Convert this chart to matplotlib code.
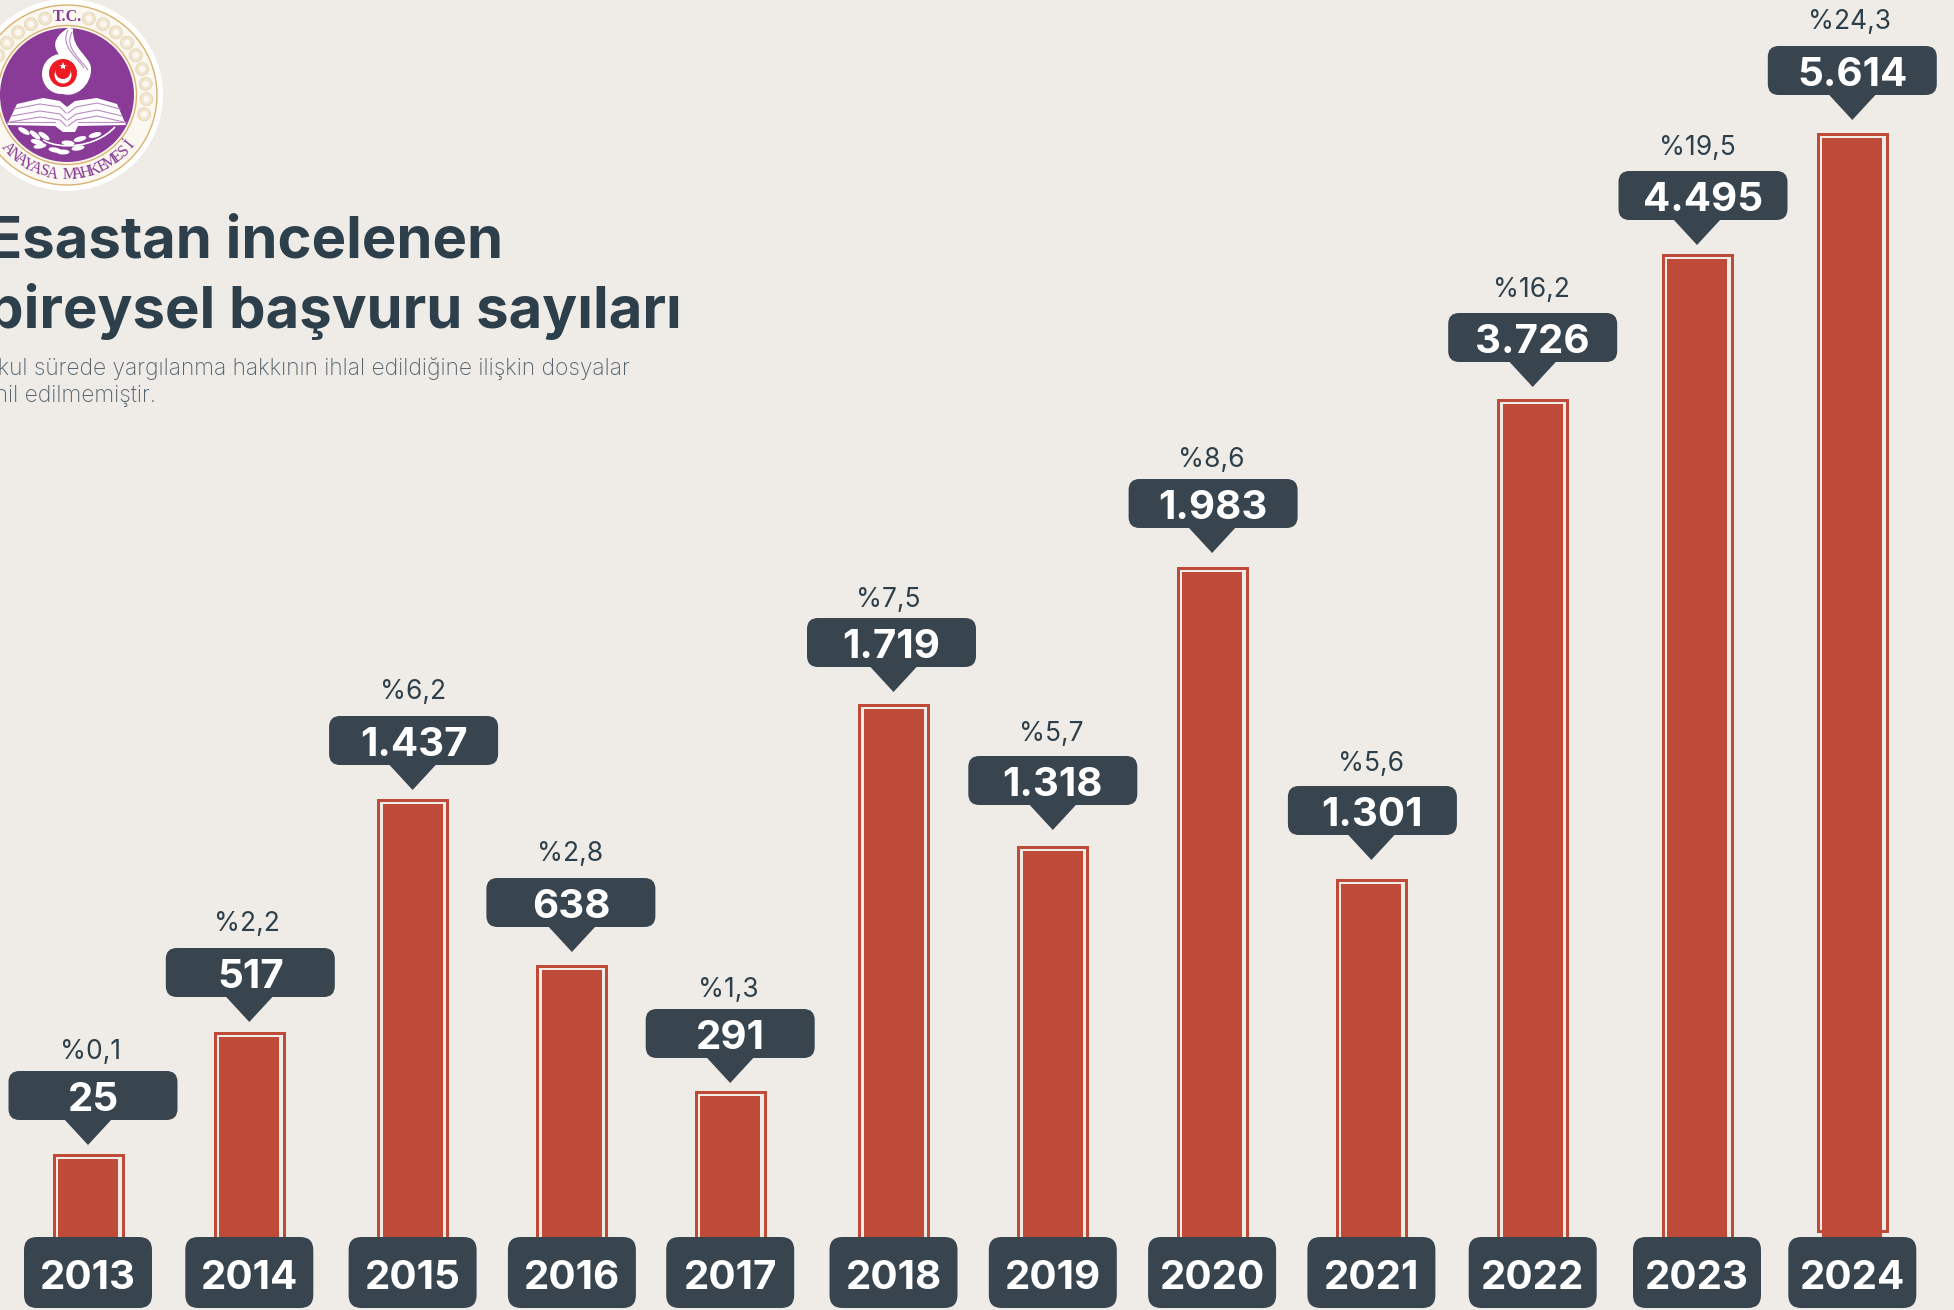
import numpy as np
import matplotlib
matplotlib.use("Agg")
import matplotlib.pyplot as plt
from matplotlib.patches import FancyBboxPatch, Rectangle, Polygon, Circle, Ellipse, PathPatch
from matplotlib.path import Path

# ---------- data ----------
years = [2013, 2014, 2015, 2016, 2017, 2018, 2019, 2020, 2021, 2022, 2023, 2024]
counts = [25, 517, 1437, 638, 291, 1719, 1318, 1983, 1301, 3726, 4495, 5614]
count_labels = ["25", "517", "1.437", "638", "291", "1.719", "1.318", "1.983", "1.301", "3.726", "4.495", "5.614"]
share_labels = ["%0,1", "%2,2", "%6,2", "%2,8", "%1,3", "%7,5", "%5,7", "%8,6", "%5,6", "%16,2", "%19,5", "%24,3"]

# The source's bars are not drawn to a linear scale: this is the axis
axis_values = [0, 25, 291, 517, 638, 1301, 1318, 1437, 1719, 1983, 3726, 4495, 5614, 6000]
axis_heights = [0, 81, 144, 203, 270, 356, 389, 436, 531, 668, 836, 981, 1102, 1240]

# ---------- layout (pixels) ----------
W, H = 1954, 1310
BASE = 1240
BG, RED, DARK, SLATE = "#EFECE7", "#BF4A37", "#2D3F4A", "#38454F"
STEP, X0 = 160.3, 89
bar_nudge = [-1, 0, 3, 2, 0, 3, 2, 1, 0, 1, 5, 0]
callout_dx = [5, 1, 1, -1, 0, -2, 0, 1, 1, 0, 6, 0]
callout_gap = [33, 34, 33, 37, 32, 36, 40, 38, 43, 36, 33, 37]
share_dx = [3, -2, 0, -2, -2, -5, -2, -1, 0, -1, 0, -3]
share_gap = [21, 26, 26, 26, 22, 21, 24, 22, 25, 25, 26, 26]
FONT = ["Inter", "DejaVu Sans"]

fig = plt.figure(figsize=(W / 100, H / 100), dpi=100, facecolor=BG)

# ---------- bars, through the axis scale ----------
ax = fig.add_axes([0, (H - BASE) / H, 1, BASE / H])
ax.set_yscale("function", functions=(lambda v: np.interp(v, axis_values, axis_heights),
                                     lambda h: np.interp(h, axis_heights, axis_values)))
ax.set_ylim(0, 6000)
ax.set_xlim(-X0 / STEP, (W - X0) / STEP)
ax.axis("off")
positions = np.arange(len(years)) + np.array(bar_nudge) / STEP
ax.bar(positions, counts, width=60 / STEP, color=RED, linewidth=0)
fig.canvas.draw()


def px(i, value):
    x, y = ax.transData.transform((positions[i], value))
    return x, H - y


# ---------- overlay in pixel units ----------
ov = fig.add_axes([0, 0, 1, 1], facecolor="none")
ov.set_xlim(0, W)
ov.set_ylim(H, 0)
ov.axis("off")


def rbox(x0, y0, w, h, r, color):
    ov.add_patch(FancyBboxPatch((x0, y0), w, h, boxstyle=f"round,pad=0,rounding_size={r}",
                                fc=color, ec="none"))


for i, (yr, cl, sl) in enumerate(zip(years, count_labels, share_labels)):
    cx, top = px(i, counts[i])
    outer = top - 6
    bottom = 1231 if yr == 2024 else 1250
    ov.add_patch(Rectangle((cx - 34.5, outer + 1.5), 69, bottom - outer - 1.5, fc="none", ec=RED, lw=3 * 0.72))
    # year label
    rbox(cx - 64, 1237, 128, 71, 13, SLATE)
    ov.text(cx, 1289, str(yr), color="white", fontsize=29, fontweight="bold", family=FONT, ha="center", va="baseline")
    # callout
    bx = cx + callout_dx[i]
    bb = outer - callout_gap[i]
    bt = bb - 49
    tip = bb + 25
    ov.add_patch(Polygon([(cx - 24, bb - 1), (cx + 24, bb - 1), (cx, tip)], closed=True, fc=SLATE, ec="none"))
    rbox(bx - 84.5, bt, 169, 49, 11, SLATE)
    ov.text(bx, bb - 9, cl, color="white", fontsize=29, fontweight="bold", family=FONT, ha="center", va="baseline")
    ov.text(cx + share_dx[i], bt - share_gap[i] + 9.5, sl, color=DARK, fontsize=19, family=FONT,
            ha="center", va="baseline")

# ---------- title ----------
ov.text(-13, 258, "Esastan incelenen", color=DARK, fontsize=41.8, fontweight="bold", family=FONT, va="baseline")
ov.text(-13, 328, "bireysel başvuru sayıları", color=DARK, fontsize=41.8, fontweight="bold", family=FONT, va="baseline")
ov.text(-35, 375, "Makul sürede yargılanma hakkının ihlal edildiğine ilişkin dosyalar", color="#55646D",
        fontsize=16.4, fontweight="light", family=FONT, va="baseline")
ov.text(-31, 402, "dahil edilmemiştir.", color="#55646D", fontsize=16.4, fontweight="light", family=FONT, va="baseline")

# ---------- emblem ----------
LX, LY = 67, 95
PURPLE, GOLD, LILAC = "#8A3B97", "#D9B26F", "#B98CC2"
ov.add_patch(Circle((LX, LY), 96, fc="white", ec="none"))
ov.add_patch(Circle((LX, LY), 90, fc="#FBF8F1", ec=GOLD, lw=1.0))
ov.add_patch(Circle((LX, LY), 69.5, fc="none", ec=GOLD, lw=1.0))
for deg in list(range(16, 110, 11)) + list(range(-16, -110, -11)):
    a = np.radians(deg)  # measured from the top
    bxy = (LX + 79.5 * np.sin(a), LY - 79.5 * np.cos(a))
    ov.add_patch(Circle(bxy, 6.5, fc="#F0E5CF", ec="#E6D6B4", lw=0.6))
    ov.add_patch(Circle(bxy, 3.2, fc="#FBF8F1", ec="none"))
ov.add_patch(Circle((LX, LY), 67, fc=PURPLE, ec="none"))
# crescent band and flame
ov.add_patch(Ellipse((61, 74), 38, 40, fc="white", ec="none"))
flame = Path([(68, 28), (52, 38), (52, 48), (62, 58),
              (72, 66), (80, 74), (76, 84),
              (73, 90), (68, 93), (60, 93),
              (75, 100), (92, 85), (91, 68),
              (90, 56), (72, 50), (73, 29),
              (71, 28), (69, 28), (68, 28)],
             [Path.MOVETO] + [Path.CURVE4] * 18)
ov.add_patch(PathPatch(flame, fc="white", ec="none"))
for start in ((68, 30), (72, 32)):
    sx, sy = start
    stroke = Path([(sx, sy), (sx - 8, sy + 16), (sx + 8, sy + 26), (sx + 16, sy + 38)],
                  [Path.MOVETO] + [Path.CURVE4] * 3)
    ov.add_patch(PathPatch(stroke, fc="none", ec=LILAC, lw=0.8))
ov.add_patch(Circle((63, 73), 14, fc="#ED1C24", ec="none"))
ov.add_patch(Circle((63, 75), 8.5, fc="white", ec="none"))
ov.add_patch(Circle((63, 71.5), 7.5, fc="#ED1C24", ec="none"))
ov.plot([63], [65.5], marker="*", ms=6, color="white", mew=0)
# book
ov.add_patch(Polygon([(7, 125), (17, 104), (43, 98), (60, 101), (67, 107), (75, 101), (97, 98), (117, 104),
                      (126, 125), (78, 126), (75, 132), (63, 132), (55, 126)], closed=True, fc="white", ec="none"))
for off in (0, 7, 13):
    ov.plot([14 - off * 0.3, 40, 60, 66], [109 + off, 104 + off, 107 + off, 113 + off], color=LILAC, lw=0.8)
    ov.plot([68, 76, 97, 120 + off * 0.3], [113 + off, 107 + off, 103 + off, 109 + off], color=LILAC, lw=0.8)
ov.plot([7, 55], [122, 122], color=LILAC, lw=0.8)
ov.plot([78, 126], [122, 122], color=LILAC, lw=0.8)
# olive branch
branch = Path([(43, 140), (60, 150), (95, 148), (115, 127)], [Path.MOVETO] + [Path.CURVE4] * 3)
ov.add_patch(PathPatch(branch, fc="none", ec="white", lw=1.2))
for bx, by, ang in ((24, 131, 30), (35, 135, 40), (44, 136, 35), (37, 142, 15), (40, 146, -10), (55, 150, 10),
                    (68, 143, 5), (80, 139, -15), (95, 135, -15), (78, 148, -10), (63, 152, 0)):
    ov.add_patch(Ellipse((bx, by), 13, 5, angle=ang, fc="white", ec="none"))
# ring lettering
ov.text(67, 21, "T.C.", color=PURPLE, fontsize=11.5, fontweight="bold", family="Liberation Serif",
        ha="center", va="baseline")
ring = "ANAYASA MAHKEMESİ"
for k, ch in enumerate(ring):
    a = np.radians((k - 7.7) * 6.2)
    ov.text(LX + 80 * np.sin(a), LY + 80 * np.cos(a), ch, color=PURPLE, fontsize=11.5, family="Liberation Serif",
            ha="center", va="center", rotation=np.degrees(a), rotation_mode="anchor")

fig.savefig("out.png", dpi=100, facecolor=BG)
